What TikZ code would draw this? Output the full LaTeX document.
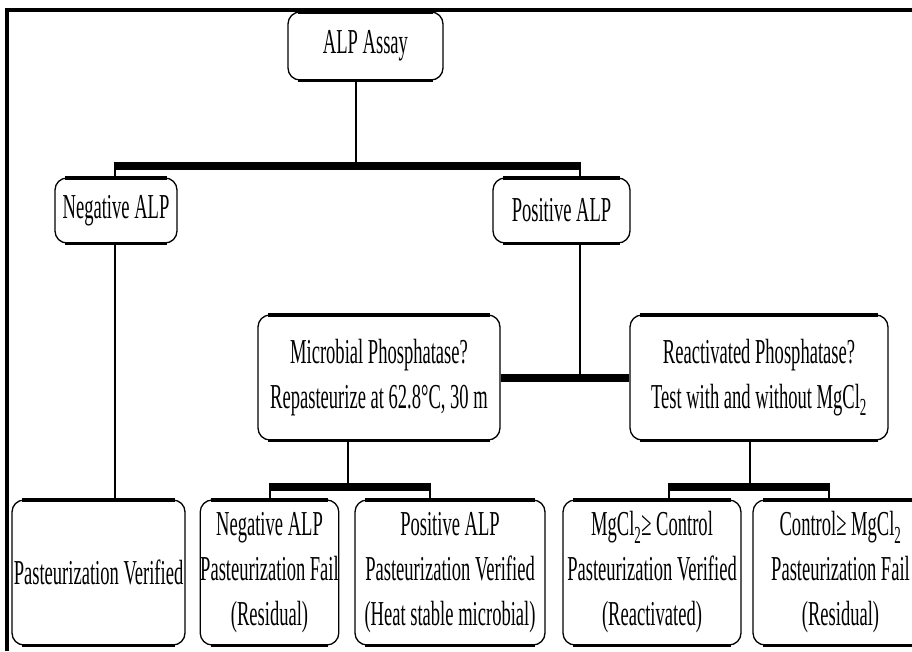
\documentclass[tikz,border=0pt]{standalone}
\usepackage{fontspec}
\setmainfont[FakeStretch=0.53]{Liberation Serif}
\tikzset{
  bx/.style={draw, rounded corners=12pt, line width=1.3pt, align=center, inner sep=0pt, fill=white},
  conn/.style={line width=2.8pt},
  barline/.style={line width=8pt, line cap=butt},
  topedge/.style={line width=3.6pt, line cap=butt},
  botedge/.style={line width=2.6pt, line cap=butt},
  frameline/.style={line width=4pt, line cap=butt},
}
\newcommand{\boxedges}[1]{%
  \draw[topedge] ([xshift=11pt,yshift=-0.6pt]#1.north west) -- ([xshift=-11pt,yshift=-0.6pt]#1.north east);
  \draw[botedge] ([xshift=11pt,yshift=0.4pt]#1.south west) -- ([xshift=-11pt,yshift=0.4pt]#1.south east);}
\begin{document}
\begin{tikzpicture}[x=1pt, y=-1pt, font=\fontsize{35pt}{45pt}\selectfont]
\useasboundingbox (0,0) rectangle (912,651);
\fill[white] (0,0) rectangle (912,651);
\clip (0,0) rectangle (912,651);

% frame
\draw[frameline] (5,10) -- (912,10);
\draw[frameline] (7,8) -- (7,651);

% boxes
\node[bx, minimum width=155pt, minimum height=68pt] (assay) at (365.5,46) {ALP Assay};
\node[bx, minimum width=122pt, minimum height=65pt] (neg) at (116,210.5) {Negative ALP};
\node[bx, minimum width=137pt, minimum height=65pt] (pos) at (561.5,210.5) {Positive ALP};
\node[bx, minimum width=242pt, minimum height=125pt] (micro) at (379,377.5) {Microbial Phosphatase?\\Repasteurize at 62.8°C, 30 m};
\node[bx, minimum width=258pt, minimum height=125pt] (react) at (759,377.5) {Reactivated Phosphatase?\\Test with and without MgCl\textsubscript{2}};
\node[bx, minimum width=173pt, minimum height=145pt] (b1) at (98.5,572.5) {Pasteurization Verified};
\node[bx, minimum width=137pt, minimum height=145pt] (b2) at (269.5,572.5) {Negative ALP\\Pasteurization Fail\\(Residual)};
\node[bx, minimum width=190pt, minimum height=145pt] (b3) at (450,572.5) {Positive ALP\\Pasteurization Verified\\(Heat stable microbial)};
\node[bx, minimum width=178pt, minimum height=145pt] (b4) at (652,572.5) {MgCl\textsubscript{2}≥ Control\\Pasteurization Verified\\(Reactivated)};
\node[bx, minimum width=175pt, minimum height=145pt] (b5) at (840.5,572.5) {Control≥ MgCl\textsubscript{2}\\Pasteurization Fail\\(Residual)};
\foreach \n in {assay,neg,pos,micro,react,b1,b2,b3,b4,b5}{\boxedges{\n}}

% junction coordinates
\coordinate (j0) at (356,166);
\coordinate (jl) at (115,166);
\coordinate (jr) at (580,166);
\coordinate (jp) at (580,378);
\coordinate (jm) at (348,487);
\coordinate (jm1) at (270,487);
\coordinate (jm2) at (430,487);
\coordinate (jr0) at (750,487);
\coordinate (jr1) at (669,487);
\coordinate (jr2) at (829,487);

% top level
\draw[conn] (assay.south -| j0) -- (j0);
\draw[barline] ([xshift=-1.4pt]jl) -- ([xshift=1.4pt]jr);
\draw[conn] (jl) -- (neg.north -| jl);
\draw[conn] (jr) -- (pos.north -| jr);
\draw[conn] (neg.south -| jl) -- (b1.north -| jl);

% positive branch
\draw[conn] (pos.south -| jp) -- (jp);
\draw[barline] (micro.east |- jp) -- (react.west |- jp);

% microbial branch
\draw[conn] (micro.south -| jm) -- (jm);
\draw[barline] ([xshift=-1.4pt]jm1) -- ([xshift=1.4pt]jm2);
\draw[conn] (jm1) -- (b2.north -| jm1);
\draw[conn] (jm2) -- (b3.north -| jm2);

% reactivated branch
\draw[conn] (react.south -| jr0) -- (jr0);
\draw[barline] ([xshift=-1.4pt]jr1) -- ([xshift=1.4pt]jr2);
\draw[conn] (jr1) -- (b4.north -| jr1);
\draw[conn] (jr2) -- (b5.north -| jr2);
\end{tikzpicture}
\end{document}
